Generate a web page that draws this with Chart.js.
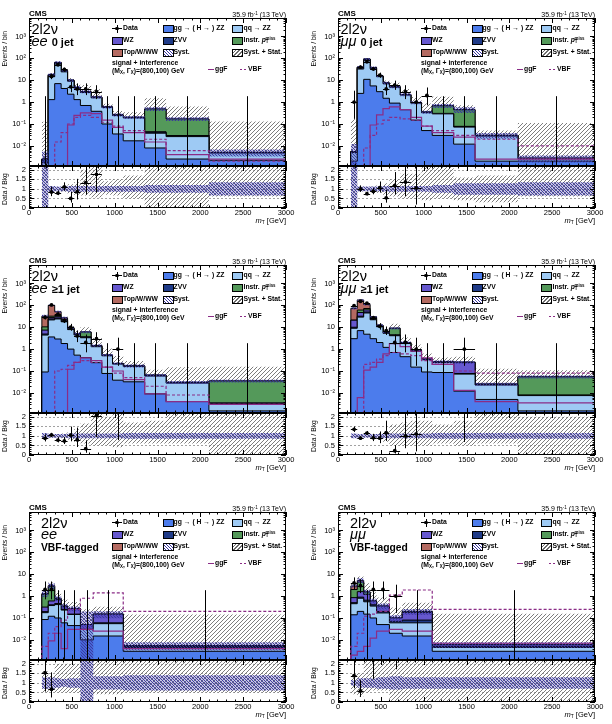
<!DOCTYPE html>
<html><head><meta charset="utf-8"><title>2l2nu mT distributions</title>
<script src="https://cdn.jsdelivr.net/npm/chart.js@4.4.1/dist/chart.umd.min.js"></script>
<style>
html,body{margin:0;padding:0;background:#fff;}
#root{position:relative;width:612px;height:724px;overflow:hidden;font-family:"Liberation Sans",Arial,Helvetica,sans-serif;color:#000;}
canvas{position:absolute;}
.t{position:absolute;white-space:nowrap;line-height:1;}
.b{font-weight:bold;}
sup{font-size:65%;vertical-align:0.45em;line-height:0;}
sub{font-size:65%;vertical-align:-0.25em;line-height:0;}
.rot{position:absolute;white-space:nowrap;line-height:1;transform-origin:0 0;transform:rotate(-90deg);}
</style></head><body><div id="root"></div>
<script>
// ---------------- data ----------------
const binsStd = [150,225,300,375,450,525,600,725,850,975,1100,1350,1600,2100,3000];
const binsVbf = [150,225,300,375,450,600,750,1100,3000];
const yTickValues = [0.01,0.1,1,10,100,1000];
const yTickLabels = ['10\u207B\u00B2','10\u207B\u00B9','1','10','10\u00B2','10\u00B3'];
const ratioTickValues = [0,0.5,1,1.5,2];
const ratioTickLabels = ['0','0.5','1','1.5','2'];
const xTickValues = [0,500,1000,1500,2000,2500,3000];

// ee, 0 jet
const ee0_ggZZ  = [0.0005,1.3,7,4.2,2.3,1.3,0.7,0.38,0.1,0.035,0.017,0.008,0.0025,0.0022];
const ee0_qqZZ  = [0.0012,13.2,48,20,6.8,3.0,2.05,1.2,0.47,0.21,0.175,0.03,0.024,0.0025];
const ee0_ZVV   = [0.0006,2.0,6,2.4,0.6,0.25,0.15,0.07,0.02,0.01,0.006,0.004,0.002,0.0003];
const ee0_WZ    = [0.0002,1.2,3,1.0,0.25,0.12,0.08,0.04,0.01,0.005,0.002,0.002,0.001,0];
const ee0_instr = [0,0.2,0.8,0.3,0.05,0.03,0.02,0.01,0,0,0,0.44,0.14,0];
const ee0_top   = [0,0.1,0.3,0.1,0.02,0,0,0,0,0,0,0,0,0];
const ee0_data  = [0,15,51,31,5,4,4,3,0,0,0,0,0,0];
const ee0_ggF   = [0,0,0,0,0.09,0.25,0.32,0.3,0.15,0.07,0.04,0.015,0.004,0.0025];
const ee0_VBF   = [0,0,0.015,0.04,0.1,0.2,0.25,0.2,0.12,0.08,0.05,0.02,0.006,0.002];
const ee0_syst  = [1.2,0.15,0.12,0.12,0.15,0.15,0.15,0.15,0.15,0.15,0.15,0.2,0.2,0.35];
const ee0_statUp= [50,0.15,0.1,0.15,0.25,0.35,1.0,1.3,0.4,0.5,0.7,2.1,2.7,25];
const ee0_statDn= [1,0.15,0.1,0.15,0.25,0.3,0.35,0.45,0.3,0.35,0.5,1,1,0.4];

// mumu, 0 jet
const mm0_ggZZ  = [0.002,2.5,11,5.5,3,1.5,0.9,0.45,0.15,0.05,0.03,0.012,0.002,0.002];
const mm0_qqZZ  = [0.003,30,68,28,11.5,5.4,3.9,1.65,0.75,0.28,0.26,0.06,0.026,0.0006];
const mm0_ZVV   = [0.0005,4,8,2.8,0.9,0.35,0.2,0.07,0.03,0.01,0.01,0.004,0.0015,0.0001];
const mm0_WZ    = [0,2.5,4.5,1.3,0.5,0.2,0.1,0.03,0.02,0.01,0.005,0.002,0.0005,0];
const mm0_instr = [0,0.8,1.2,0.3,0.1,0.05,0,0,0,0,0.375,0.372,0,0];
const mm0_top   = [0,0.2,0.3,0.1,0,0,0,0,0,0,0,0,0,0];
const mm0_data  = [1,40,70,33,17,4,6,3,1,2,0,0,0,0];
const mm0_ggF   = [0,0,0,0.09,0.26,0.5,0.6,0.45,0.2,0.08,0.04,0.025,0.0025,0.0025];
const mm0_VBF   = [0,0,0.008,0.03,0.1,0.15,0.2,0.17,0.15,0.08,0.05,0.03,0.02,0.01];
const mm0_syst  = [1.2,0.12,0.12,0.12,0.12,0.15,0.15,0.15,0.15,0.15,0.2,0.3,0.3,0.35];
const mm0_statUp= [30,0.12,0.1,0.12,0.2,0.3,0.5,0.8,0.8,1.5,1.6,0.6,0.7,40];
const mm0_statDn= [1,0.12,0.1,0.12,0.2,0.3,0.4,0.5,0.5,0.6,0.5,0.6,0.7,0.4];

// ee, >=1 jet
const ee1_ggZZ  = [0.09,3.6,2.9,1.8,1.0,0.53,0.41,0.24,0.077,0.038,0.032,0.009,0.004,0.0015];
const ee1_qqZZ  = [4.3,18,21,16,6.8,3.9,2.9,1.05,0.42,0.17,0.13,0.05,0.024,0.0015];
const ee1_ZVV   = [0.5,2.5,2.5,1.5,0.5,0.2,0.15,0.05,0.015,0.007,0.005,0.003,0.001,0.0002];
const ee1_WZ    = [2.5,4,4,2.5,0.8,0.3,0.2,0.08,0.018,0.005,0.003,0.002,0.001,0.0003];
const ee1_instr = [3,4,4,1.5,0.3,0.07,2.4,0.03,0,0,0,0,0,0.0315];
const ee1_top   = [21.6,68,16.6,3.8,0.2,0,0,0,0,0,0,0,0,0];
const ee1_data  = [28,105,40,20,10,4,2,3,0,1,0,0,0,0];
const ee1_ggF   = [0,0,0,0,0.12,0.25,0.4,0.3,0.15,0.1,0.04,0.009,0.004,0.003];
const ee1_VBF   = [0,0,0.1,0.12,0.18,0.25,0.3,0.25,0.15,0.08,0.05,0.02,0.008,0.003];
const ee1_syst  = [0.15,0.1,0.1,0.1,0.12,0.12,0.12,0.12,0.12,0.12,0.15,0.15,0.15,0.15];
const ee1_statUp= [0.12,0.08,0.1,0.12,0.2,0.35,0.65,1.2,1.0,1.2,0.7,0.8,4,3.5];
const ee1_statDn= [0.12,0.08,0.1,0.12,0.2,0.3,0.4,0.5,0.5,0.6,0.4,0.4,0.4,1];

// mumu, >=1 jet
const mm1_ggZZ  = [3,7,4.8,3,2,1.2,0.7,0.45,0.15,0.09,0.085,0.012,0.005,0.0015];
const mm1_qqZZ  = [6,22,40,19,8.5,4.1,3.4,1.35,0.65,0.24,0.16,0.06,0.018,0.006];
const mm1_ZVV   = [1,3,5,2,0.6,0.3,0.15,0.07,0.04,0.01,0.008,0.005,0.001,0.0002];
const mm1_WZ    = [11,15,12,3,0.9,0.3,0.25,0.1,0.06,0.01,0.007,0.173,0.001,0.0003];
const mm1_instr = [0,14,10,1.5,0.3,0.1,4.5,0.03,0,0,0,0,0,0.046];
const mm1_top   = [52,114,38,1.5,0.2,0,0,0,0,0,0,0,0,0];
const mm1_data  = [98,154,126,27,11,7,2,2,1,0,0,1,0,0];
const mm1_ggF   = [0,0.006,0.11,0.15,0.25,0.6,1.8,1.3,0.8,0.4,0.2,0.013,0.004,0.0035];
const mm1_VBF   = [0,0,0.2,0.25,0.35,0.5,0.7,0.6,0.5,0.3,0.2,0.1,0.08,0.08];
const mm1_syst  = [0.12,0.1,0.1,0.1,0.1,0.12,0.12,0.12,0.12,0.12,0.15,0.15,0.15,0.15];
const mm1_statUp= [0.1,0.06,0.07,0.1,0.15,0.3,0.6,0.7,0.8,0.8,0.6,0.8,4,1.0];
const mm1_statDn= [0.1,0.06,0.07,0.1,0.15,0.3,0.5,0.5,0.5,0.5,0.4,0.5,0.4,1];

// ee, VBF-tagged
const eeV_ggZZ  = [0.085,0.12,0.1,0.06,0.045,0.01,0.015,0.003];
const eeV_qqZZ  = [0.09,0.25,0.31,0.17,0.1,0.02,0.04,0.0015];
const eeV_ZVV   = [0.02,0.03,0.05,0.02,0.005,0,0.005,0.0005];
const eeV_WZ    = [0.12,0.2,0.25,0.08,0.12,0.02,0.09,0.0005];
const eeV_instr = [0.9,2.2,0.05,0.02,0,0,0,0];
const eeV_top   = [0.085,0.2,0.04,0,0,0,0,0];
const eeV_data  = [2,2,0,0,0,0,0,0];
const eeV_ggF   = [0,0.009,0.02,0.004,0.03,0.03,0.025,0.004];
const eeV_VBF   = [0.005,0.02,0.04,0.08,0.25,0.8,1.4,0.2];
const eeV_syst  = [0.3,0.3,0.25,0.2,0.25,3,0.35,0.4];
const eeV_statUp= [0.6,0.4,1.0,1.0,1.0,4,1.2,25];
const eeV_statDn= [0.5,0.4,0.5,0.5,0.5,1,0.6,0.5];

// mumu, VBF-tagged
const mmV_ggZZ  = [0.14,0.2,0.15,0.1,0.05,0.02,0.015,0.003];
const mmV_qqZZ  = [0.31,0.6,0.4,0.25,0.12,0.04,0.045,0.0015];
const mmV_ZVV   = [0.05,0.1,0.1,0.05,0.03,0.01,0.02,0.0005];
const mmV_WZ    = [0.35,0.7,0.55,0.2,0.15,0.03,0.1,0.001];
const mmV_instr = [1.15,2.8,0.35,0,0,0,0.02,0];
const mmV_top   = [0.9,0.8,0,0,0,0,0,0];
const mmV_data  = [4,3,0,2,2,1,0,0];
const mmV_ggF   = [0.002,0.003,0.005,0.012,0.025,0.03,0.025,0.007];
const mmV_VBF   = [0.005,0.02,0.12,0.15,0.2,1.1,1.9,0.25];
const mmV_syst  = [0.15,0.25,0.25,0.25,0.3,0.35,0.3,0.3];
const mmV_statUp= [0.5,0.5,1.5,1.5,1.5,2,1.5,25];
const mmV_statDn= [0.6,0.7,0.5,0.4,0.4,1,1,1];

// ---------------- styling / layout ----------------
const C = {ggZZ:'#4c7cec', qqZZ:'#9ecaf4', zvv:'#1f3b88', wz:'#6658cf', instr:'#54995a', top:'#b46a61', sig:'#8a2c86'};
const ROWS = [18, 265, 512];
const COLS = [29, 338];
const FW = 257, MH = 148, RH = 42, YW = 30, PADR = 12, PADV = 8, XH = 14;
const YMIN = 1.2e-3, YMAX = 7e3, RMAX = 2.2, FLOOR = 1e-9;

Chart.defaults.font.family = '"Liberation Sans", Arial, Helvetica, sans-serif';
Chart.defaults.color = '#000';

const root = document.getElementById('root');

function makeHatch(color, size, dir, lw){
  const c = document.createElement('canvas'); c.width = c.height = size;
  const g = c.getContext('2d'); g.strokeStyle = color; g.lineWidth = lw; g.beginPath();
  if (dir === '/') { g.moveTo(0,size); g.lineTo(size,0); g.moveTo(-1,1); g.lineTo(1,-1); g.moveTo(size-1,size+1); g.lineTo(size+1,size-1); }
  else { g.moveTo(0,0); g.lineTo(size,size); g.moveTo(size-1,-1); g.lineTo(size+1,1); g.moveTo(-1,size-1); g.lineTo(1,size+1); }
  g.stroke();
  return g.createPattern(c, 'repeat');
}
const PAT = { stat: makeHatch('#6e6e6e', 4, '/', 0.9), syst: makeHatch('#3a36a0', 3, '\\', 1.1) };

function txt(html, left, top, size, cls, extra){
  const d = document.createElement('div'); d.className = 't ' + (cls||'');
  d.style.cssText = `left:${left}px;top:${top}px;font-size:${size}px;${extra||''}`;
  d.innerHTML = html; root.appendChild(d); return d;
}
function txtR(html, right, top, size, cls){
  const d = document.createElement('div'); d.className = 't ' + (cls||'');
  d.style.cssText = `right:${612-right}px;top:${top}px;font-size:${size}px;`;
  d.innerHTML = html; root.appendChild(d); return d;
}
function box(left, top, w, h, css){
  const d = document.createElement('div');
  d.style.cssText = `position:absolute;left:${left}px;top:${top}px;width:${w}px;height:${h}px;${css}`;
  root.appendChild(d); return d;
}
function rot(html, x, yEnd, w, size, align){
  const d = document.createElement('div'); d.className = 'rot';
  d.style.cssText = `left:${x}px;top:${yEnd + w}px;width:${w}px;text-align:${align};font-size:${size}px;`;
  d.innerHTML = html; root.appendChild(d); return d;
}
function addCanvas(left, top, w, h){
  const c = document.createElement('canvas'); c.width = w; c.height = h;
  c.style.left = left + 'px'; c.style.top = top + 'px'; c.style.width = w + 'px'; c.style.height = h + 'px';
  root.appendChild(c); return c;
}

// Gehrels-style Poisson intervals for the data error bars
function errHi(n){ return n + Math.sqrt(n + 0.75) + 1; }
function errLo(n){ return n > 0 ? n * Math.pow(1 - 1/(9*n) - 1/(3*Math.sqrt(n)), 3) : 0; }

function histPts(edges, vals){
  const n = vals.length, pts = [{x:edges[0], y:FLOOR}];
  for (let i = 0; i < n; i++) pts.push({x:edges[i], y: vals[i] > 0 ? vals[i] : FLOOR});
  pts.push({x:edges[n], y: vals[n-1] > 0 ? vals[n-1] : FLOOR});
  pts.push({x:edges[n], y:FLOOR});
  return pts;
}
function bandPts(edges, vals, floor){
  const n = vals.length, pts = [];
  for (let i = 0; i < n; i++) pts.push({x:edges[i], y: vals[i] > floor ? vals[i] : floor});
  pts.push({x:edges[n], y: vals[n-1] > floor ? vals[n-1] : floor});
  return pts;
}

function decor(kind, err){
  return {
    id: 'decor_' + kind,
    beforeDatasetsDraw(chart){
      if (kind !== 'ratio') return;
      const {ctx, chartArea:a, scales:{y}} = chart;
      ctx.save(); ctx.strokeStyle = '#8a8a8a'; ctx.lineWidth = 0.8; ctx.setLineDash([2,2]);
      [0.5,1,1.5,2].forEach(v => { const py = Math.round(y.getPixelForValue(v)) + 0.5;
        ctx.beginPath(); ctx.moveTo(a.left, py); ctx.lineTo(a.right, py); ctx.stroke(); });
      ctx.restore();
    },
    afterDatasetsDraw(chart){
      const {ctx, chartArea:a, scales:{x, y}} = chart;
      ctx.save(); ctx.beginPath(); ctx.rect(a.left, a.top, a.right-a.left, a.bottom-a.top); ctx.clip();
      ctx.strokeStyle = '#000'; ctx.lineWidth = 1;
      err.forEach(e => {
        const px = Math.round(x.getPixelForValue(e.cx)) + 0.5;
        const yHi = y.getPixelForValue(e.hi);
        const yLo = e.lo > 0 ? y.getPixelForValue(e.lo) : a.bottom + 2;
        ctx.beginPath(); ctx.moveTo(px, yLo); ctx.lineTo(px, yHi); ctx.stroke();
        if (e.y != null) {
          const py = Math.round(y.getPixelForValue(e.y)) + 0.5;
          ctx.beginPath(); ctx.moveTo(x.getPixelForValue(e.x0), py); ctx.lineTo(x.getPixelForValue(e.x1), py); ctx.stroke();
        }
      });
      ctx.restore();
    },
    afterDraw(chart){
      const {ctx, chartArea:a, scales:{x, y}} = chart;
      ctx.save(); ctx.strokeStyle = '#000'; ctx.lineWidth = 1;
      ctx.strokeRect(a.left + 0.5, a.top + 0.5, a.right - a.left - 1, a.bottom - a.top - 1);
      const seg = (x0,y0,x1,y1) => { ctx.beginPath(); ctx.moveTo(x0,y0); ctx.lineTo(x1,y1); ctx.stroke(); };
      for (let v = 0; v <= 3000; v += 100) {
        const px = Math.round(x.getPixelForValue(v)) + 0.5, L = v % 500 === 0 ? 5 : 2.5;
        seg(px, a.bottom, px, a.bottom - L); seg(px, a.top, px, a.top + L);
      }
      const yt = [];
      if (kind === 'main') {
        for (let ex = -3; ex <= 4; ex++) for (let k = 1; k < 10; k++) { const v = k * Math.pow(10, ex); if (v >= y.min && v <= y.max) yt.push([v, k === 1 ? 5 : 2.5]); }
      } else {
        for (let i = 0; i <= 22; i++) yt.push([i/10, i % 5 === 0 ? 5 : 2.5]);
      }
      yt.forEach(([v, L]) => { const py = Math.round(y.getPixelForValue(v)) + 0.5;
        seg(a.left, py, a.left + L, py); seg(a.right, py, a.right - L, py); });
      ctx.restore();
    }
  };
}

function baseOptions(){
  return { responsive:false, maintainAspectRatio:false, animation:false, events:[],
    plugins:{legend:{display:false}, tooltip:{enabled:false}},
    elements:{point:{radius:0}, line:{tension:0}} };
}

function drawPanel(P){
  const L = COLS[P.col], T = ROWS[P.row], e = P.bins, n = e.length - 1;
  const centers = e.slice(0, n).map((v,i) => (v + e[i+1]) / 2);
  const comps = [P.ggZZ, P.qqZZ, P.zvv, P.wz, P.instr, P.top];
  const cols = [C.ggZZ, C.qqZZ, C.zvv, C.wz, C.instr, C.top];
  const cum = []; let run = new Array(n).fill(0);
  comps.forEach(arr => { run = run.map((v,i) => v + arr[i]); cum.push(run.slice()); });
  const total = run;

  // ---------- main panel ----------
  const ds = [];
  ds.push({data: centers.map((cx,i) => ({x:cx, y: P.data[i] > 0 ? P.data[i] : null})), showLine:false,
           pointRadius:1.9, pointBackgroundColor:'#000', pointBorderWidth:0, order:0});
  ds.push({data: histPts(e, P.ggF), borderColor:C.sig, borderWidth:1.2, stepped:true, fill:false, order:1});
  ds.push({data: histPts(e, P.vbf), borderColor:C.sig, borderWidth:1.2, borderDash:[3,2], stepped:true, fill:false, order:2});
  let idx = ds.length;
  ds.push({data: bandPts(e, total.map((t,i) => t*(1+P.syst[i])), FLOOR), fill:{target: idx+1}, backgroundColor:PAT.syst,
           borderWidth:0, borderColor:'rgba(0,0,0,0)', stepped:true, order:3});
  ds.push({data: bandPts(e, total.map((t,i) => t*(1-P.syst[i])), FLOOR), fill:false, borderWidth:0, borderColor:'rgba(0,0,0,0)', stepped:true, order:4});
  cum.forEach((cv,k) => ds.push({data: histPts(e, cv), fill:'start', backgroundColor:cols[k], borderColor:'#000',
           borderWidth:1, stepped:true, order:5+k}));
  idx = ds.length;
  ds.push({data: bandPts(e, total.map((t,i) => t*(1+P.statUp[i])), FLOOR), fill:{target: idx+1}, backgroundColor:PAT.stat,
           borderWidth:0, borderColor:'rgba(0,0,0,0)', stepped:true, order:20});
  ds.push({data: bandPts(e, total.map((t,i) => t*(1-P.statDn[i])), FLOOR), fill:false, borderWidth:0, borderColor:'rgba(0,0,0,0)', stepped:true, order:21});

  const errMain = centers.map((cx,i) => {
    const d = P.data[i];
    return d > 0 ? {cx, x0:e[i], x1:e[i+1], y:d, lo:errLo(d), hi:errHi(d)} : {cx, y:null, lo:0, hi:errHi(0)};
  });
  const mOpts = baseOptions();
  mOpts.layout = {padding:{left:0, right:PADR, top:PADV, bottom:PADV}};
  mOpts.scales = {
    x: {type:'linear', min:0, max:3000, display:false},
    y: {type:'logarithmic', min:YMIN, max:YMAX, position:'left',
        afterBuildTicks: s => { s.ticks = yTickValues.map(v => ({value:v})); },
        afterFit: s => { s.width = YW; },
        grid:{display:false, drawTicks:false}, border:{display:false},
        ticks:{autoSkip:false, padding:3, font:{size:7.5}, color:'#000',
               callback: v => { const i = yTickValues.findIndex(t => Math.abs(Math.log10(t) - Math.log10(v)) < 1e-6); return i >= 0 ? yTickLabels[i] : ''; }}}
  };
  new Chart(addCanvas(L - YW, T - PADV, YW + FW + PADR, MH + 2*PADV), {
    type:'line', data:{datasets:ds}, options:mOpts, plugins:[decor('main', errMain)] });

  // ---------- ratio panel ----------
  const RT = T + MH;
  const rds = [];
  rds.push({data: centers.map((cx,i) => ({x:cx, y: P.data[i] > 0 ? P.data[i]/total[i] : null})), showLine:false,
            pointRadius:1.9, pointBackgroundColor:'#000', pointBorderWidth:0, order:0});
  idx = rds.length;
  rds.push({data: bandPts(e, P.syst.map(s => 1 + s), -1), fill:{target: idx+1}, backgroundColor:PAT.syst,
            borderWidth:0, borderColor:'rgba(0,0,0,0)', stepped:true, order:1});
  rds.push({data: bandPts(e, P.syst.map(s => 1 - s), -1), fill:false, borderWidth:0, borderColor:'rgba(0,0,0,0)', stepped:true, order:2});
  idx = rds.length;
  rds.push({data: bandPts(e, P.statUp.map(s => 1 + s), -1), fill:{target: idx+1}, backgroundColor:PAT.stat,
            borderWidth:0, borderColor:'rgba(0,0,0,0)', stepped:true, order:3});
  rds.push({data: bandPts(e, P.statDn.map(s => 1 - s), -1), fill:false, borderWidth:0, borderColor:'rgba(0,0,0,0)', stepped:true, order:4});
  const errRatio = [];
  centers.forEach((cx,i) => { const d = P.data[i]; if (d > 0) errRatio.push({cx, x0:e[i], x1:e[i+1], y:d/total[i], lo:errLo(d)/total[i], hi:errHi(d)/total[i]}); });
  const rOpts = baseOptions();
  rOpts.layout = {padding:{left:0, right:PADR, top:PADV, bottom:2}};
  rOpts.scales = {
    x: {type:'linear', min:0, max:3000, position:'bottom',
        afterBuildTicks: s => { s.ticks = xTickValues.map(v => ({value:v})); },
        afterFit: s => { s.height = XH; },
        grid:{display:false, drawTicks:false}, border:{display:false},
        ticks:{autoSkip:false, maxRotation:0, minRotation:0, padding:0, font:{size:7.5}, color:'#000', callback: v => String(v)}},
    y: {type:'linear', min:0, max:RMAX, position:'left',
        afterBuildTicks: s => { s.ticks = ratioTickValues.map(v => ({value:v})); },
        afterFit: s => { s.width = YW; },
        grid:{display:false, drawTicks:false}, border:{display:false},
        ticks:{autoSkip:false, padding:3, font:{size:7.5}, color:'#000',
               callback: v => { const i = ratioTickValues.indexOf(v); return i >= 0 ? ratioTickLabels[i] : ''; }}}
  };
  new Chart(addCanvas(L - YW, RT - PADV, YW + FW + PADR, PADV + RH + XH + 2), {
    type:'line', data:{datasets:rds}, options:rOpts, plugins:[decor('ratio', errRatio)] });

  // ---------- texts ----------
  const R = L + FW;
  txt('CMS', L, T - 1.5 - 6.8, 8, 'b');
  txtR('35.9 fb<sup>-1</sup> (13 TeV)', R, T - 1.3 - 6, 7);
  rot('Events / bin', L - 27.5, T + 13.4, 100, 6.8, 'right');
  rot('Data / Bkg', L - 27.5, RT + 1.7, RH, 6.8, 'center');
  txtR('<i>m</i><sub>T</sub> [GeV]', R, RT + RH + 9.1, 7.5);
  txt(String.fromCharCode(0x33) === '3' ? '' : '', 0, 0, 1);

  if (P.vbfTag) {
    txt('2l2\u03BD', L + 12, T + 3.7, 14.5);
    txt('<i>' + P.chan + '</i>', L + 12, T + 14.7, 14.5);
    txt('VBF-tagged', L + 12, T + 30.6, 10.3, 'b');
  } else {
    txt('2l2\u03BD', L + 2.5, T + 4.1, 14.5);
    txt('<i>' + P.chan + '</i> <b style="font-size:11px">' + P.cat + '</b>', L + 2.5, T + 16.1, 14.5);
  }
  legend(L, T);
}

function legend(L, T){
  const s = 6.8, rows = [10.7, 22.4, 34, 45, 53.4];
  const sw = [83, 133.5, 202.5], tx = [94, 144.5, 214.5];
  const swatch = (c, r, bg) => box(L + sw[c], T + rows[r] - 3.5, 9, 6, `border:0.8px solid #000;background:${bg};`);
  const label = (c, r, html) => txt(html, L + tx[c], T + rows[r] - 3.3, s, 'b');
  // Data marker
  box(L + sw[0], T + rows[0] - 0.5, 10, 1, 'background:#000');
  box(L + sw[0] + 4.5, T + rows[0] - 4, 1, 8, 'background:#000');
  box(L + sw[0] + 3.3, T + rows[0] - 1.7, 3.4, 3.4, 'background:#000;border-radius:50%');
  label(0, 0, 'Data');
  swatch(1, 0, C.ggZZ); label(1, 0, 'gg \u2192 ( H \u2192 ) ZZ');
  swatch(2, 0, C.qqZZ); label(2, 0, 'qq \u2192 ZZ');
  swatch(0, 1, C.wz);   label(0, 1, 'WZ');
  swatch(1, 1, C.zvv);  label(1, 1, 'ZVV');
  swatch(2, 1, C.instr); label(2, 1, 'Instr. <i>p</i><sub>T</sub><sup style="margin-left:-3px">miss</sup>');
  swatch(0, 2, C.top);  label(0, 2, 'Top/W/WW');
  swatch(1, 2, 'repeating-linear-gradient(45deg,#fff 0 1px,#3a36a0 1px 2.1px)'); label(1, 2, 'Syst.');
  swatch(2, 2, 'repeating-linear-gradient(135deg,#fff 0 1.6px,#6e6e6e 1.6px 2.6px)'); label(2, 2, 'Syst. + Stat.');
  txt('signal + interference', L + 83, T + rows[3] - 3.3, s, 'b');
  txt('(M<sub>X</sub>, \u0393<sub>X</sub>)=(800,100) GeV', L + 83, T + rows[4] - 3.3, s, 'b');
  box(L + 179, T + rows[4] - 2.6, 5.5, 1.2, `background:${C.sig}`);
  txt('ggF', L + 186, T + rows[4] - 5.6, s, 'b');
  box(L + 211, T + rows[4] - 2.6, 2, 1.2, `background:${C.sig}`);
  box(L + 215, T + rows[4] - 2.6, 2, 1.2, `background:${C.sig}`);
  txt('VBF', L + 219, T + rows[4] - 5.6, s, 'b');
}

const panels = [
  {col:0, row:0, bins:binsStd, chan:'ee', cat:'0 jet', vbfTag:false,
   ggZZ:ee0_ggZZ, qqZZ:ee0_qqZZ, zvv:ee0_ZVV, wz:ee0_WZ, instr:ee0_instr, top:ee0_top, data:ee0_data,
   ggF:ee0_ggF, vbf:ee0_VBF, syst:ee0_syst, statUp:ee0_statUp, statDn:ee0_statDn},
  {col:1, row:0, bins:binsStd, chan:'\u03BC\u03BC', cat:'0 jet', vbfTag:false,
   ggZZ:mm0_ggZZ, qqZZ:mm0_qqZZ, zvv:mm0_ZVV, wz:mm0_WZ, instr:mm0_instr, top:mm0_top, data:mm0_data,
   ggF:mm0_ggF, vbf:mm0_VBF, syst:mm0_syst, statUp:mm0_statUp, statDn:mm0_statDn},
  {col:0, row:1, bins:binsStd, chan:'ee', cat:'\u22651 jet', vbfTag:false,
   ggZZ:ee1_ggZZ, qqZZ:ee1_qqZZ, zvv:ee1_ZVV, wz:ee1_WZ, instr:ee1_instr, top:ee1_top, data:ee1_data,
   ggF:ee1_ggF, vbf:ee1_VBF, syst:ee1_syst, statUp:ee1_statUp, statDn:ee1_statDn},
  {col:1, row:1, bins:binsStd, chan:'\u03BC\u03BC', cat:'\u22651 jet', vbfTag:false,
   ggZZ:mm1_ggZZ, qqZZ:mm1_qqZZ, zvv:mm1_ZVV, wz:mm1_WZ, instr:mm1_instr, top:mm1_top, data:mm1_data,
   ggF:mm1_ggF, vbf:mm1_VBF, syst:mm1_syst, statUp:mm1_statUp, statDn:mm1_statDn},
  {col:0, row:2, bins:binsVbf, chan:'ee', cat:'VBF-tagged', vbfTag:true,
   ggZZ:eeV_ggZZ, qqZZ:eeV_qqZZ, zvv:eeV_ZVV, wz:eeV_WZ, instr:eeV_instr, top:eeV_top, data:eeV_data,
   ggF:eeV_ggF, vbf:eeV_VBF, syst:eeV_syst, statUp:eeV_statUp, statDn:eeV_statDn},
  {col:1, row:2, bins:binsVbf, chan:'\u03BC\u03BC', cat:'VBF-tagged', vbfTag:true,
   ggZZ:mmV_ggZZ, qqZZ:mmV_qqZZ, zvv:mmV_ZVV, wz:mmV_WZ, instr:mmV_instr, top:mmV_top, data:mmV_data,
   ggF:mmV_ggF, vbf:mmV_VBF, syst:mmV_syst, statUp:mmV_statUp, statDn:mmV_statDn}
];
panels.forEach(drawPanel);
</script></body></html>
